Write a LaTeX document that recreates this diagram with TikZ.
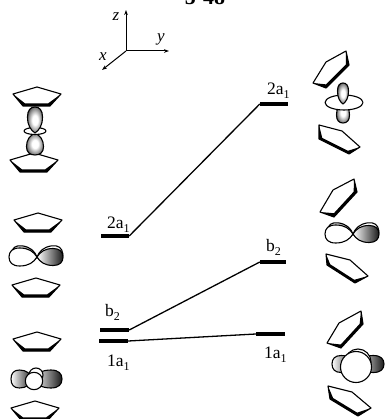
\documentclass[tikz,border=0pt]{standalone}
\usepackage{fontspec}
\setmainfont{Liberation Serif}
\usetikzlibrary{arrows.meta,calc}
\pgfdeclareradialshading{lobeshade}{\pgfpoint{0bp}{0bp}}{color(0bp)=(white); color(9bp)=(white); color(22bp)=(black!45); color(32bp)=(black!90); color(50bp)=(black)}
% ring by its corners: apex, R, BR, BL, L
\newcommand{\cpring}[5]{
  \draw[ringline, fill=white] (#1) -- (#2) -- (#3) -- (#4) -- (#5) -- cycle;
  \fill[black] (#5) -- (#4) -- (#3) -- (#2) -- ($(#3)!.14!(#1)$) -- ($(#4)!.14!(#1)$) -- cycle;
}
% lobe: neck, angle, length, half width, shading
\newcommand{\lobe}[5]{
  \draw[ringline, shift={(#1)}, rotate=#2, #5] (0,0)
    .. controls (.12*#3,.6*#4) and (.3*#3,#4) .. (.62*#3,#4)
    .. controls (.88*#3,#4) and (#3,.6*#4) .. (#3,0)
    .. controls (#3,-.6*#4) and (.88*#3,-#4) .. (.62*#3,-#4)
    .. controls (.3*#3,-#4) and (.12*#3,-.6*#4) .. (0,0) -- cycle;
}
\newcommand{\sublab}[2]{#1\raisebox{-4pt}{\fontsize{12pt}{12pt}\selectfont #2}}
\begin{document}
\begin{tikzpicture}[x=1pt, y=-1pt,
  ringline/.style={line width=1.1pt, line join=round},
  level/.style={fill=black, inner sep=0pt, minimum height=3.2pt},
  conn/.style={line width=1.3pt},
  axis/.style={-{Stealth[length=5pt,width=3.6pt]}, line width=1pt},
  lab/.style={inner sep=0pt, anchor=base west, font=\fontsize{17.5pt}{17.5pt}\selectfont},
  axlab/.style={inner sep=0pt, font=\fontsize{17pt}{17pt}\selectfont\itshape},
  glow/.style={shading=lobeshade},
  ramp/.style={left color=white, middle color=black!15, right color=black!90},
  flatring/.pic={\cpring{0,0}{24,7}{13,19}{-14,19}{-24,7}},
  dorbital/.pic={
    \lobe{0,0}{172}{26}{9}{left color=white, right color=black!45}
    \lobe{0,0}{8}{26}{9}{fill=white}
    \lobe{0,0}{180}{28}{9}{fill=white}
    \lobe{0,0}{0}{26}{8.5}{ramp}
  }]
\useasboundingbox (0,0) rectangle (384,419);

\node[inner sep=0pt, anchor=base, font=\fontsize{22pt}{22pt}\selectfont\bfseries] (title) at (205,4.5) {5-48};

% axes
\coordinate (org) at (126,51);
\coordinate (ztip) at (126,10);
\coordinate (ytip) at (169,51);
\coordinate (xtip) at (102,70);
\draw[axis] (org) -- (ztip);
\draw[axis] (org) -- (ytip);
\draw[axis] (org) -- (xtip);
\node[axlab] (zlab) at (116,17) {z};
\node[axlab] (ylab) at (161,39) {y};
\node[axlab] (xlab) at (103,57) {x};

% levels
\node[level, minimum width=28pt] (l2a) at (115,236) {};
\node[level, minimum width=29pt] (lb) at (114.5,330) {};
\node[level, minimum width=29pt, minimum height=4pt] (l1a) at (113.5,341) {};
\node[level, minimum width=28pt, minimum height=3.6pt] (r2a) at (274,104) {};
\node[level, minimum width=26pt] (rb) at (273,262) {};
\node[level, minimum width=29pt, minimum height=4pt] (r1a) at (270.5,334) {};
\draw[conn] (l2a.east) -- (r2a.west);
\draw[conn] (lb.east) -- (rb.west);
\draw[conn] (l1a.east) -- (r1a.west);
\node[lab] (t2a) at (107,228) {\sublab{2a}{1}};
\node[lab] (tb) at (105,316) {\sublab{b}{2}};
\node[lab] (t1a) at (107,366) {\sublab{1a}{1}};
\node[lab] (u2a) at (267,95) {\sublab{2a}{1}};
\node[lab] (ub) at (266,251) {\sublab{b}{2}};
\node[lab] (u1a) at (264,358) {\sublab{1a}{1}};

% left column
\pic at (37,87) {flatring};
\pic at (34,153) {flatring};
\lobe{35,133}{-90}{22}{8.5}{glow}
\draw[ringline, fill=white] (35,131) ellipse (11 and 3.5);
\lobe{35,133}{90}{26}{7.5}{glow}
\pic at (38,213) {flatring};
\pic at (37,257) {dorbital};
\pic at (36,278) {flatring};
\pic at (37,332) {flatring};
\lobe{33,379}{180}{22}{9}{ramp}
\lobe{33,379}{0}{29}{9}{ramp}
\draw[ringline, fill=white] (36,375) circle (7);
\draw[ringline, fill=white] (34,381) circle (8.7);
\pic at (35,401) {flatring};

% right column
\cpring{326,62}{346,51}{349,65}{326,88}{313,83}
\lobe{343,102}{-90}{21}{6.5}{glow}
\draw[ringline, fill=white] (344,102.5) ellipse (19 and 7.5);
\lobe{343,104}{90}{21}{5.5}{glow}
\cpring{342,131}{319,125}{319,139}{349,154}{360,147}
\cpring{333,190}{354,179}{357,192}{334,217}{320,212}
\pic at (353,234) {dorbital};
\cpring{350,260}{326,254}{327,265}{355,283}{368,276}
\cpring{339,323}{361,311}{363,324}{341,348}{327,343}
\lobe{356,364}{180}{24}{8.5}{ramp}
\lobe{356,364}{0}{28}{8.5}{ramp}
\draw[ringline, fill=white] (358,362) circle (13);
\draw[ringline, fill=white] (356,367) circle (15.5);
\cpring{352,392}{328,386}{330,399}{358,416}{371,408}
\end{tikzpicture}
\end{document}
